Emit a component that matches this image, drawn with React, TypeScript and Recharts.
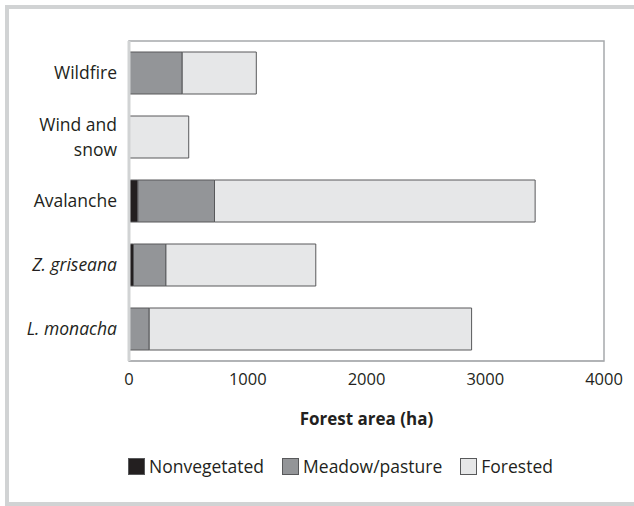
import { BarChart, Bar, XAxis, YAxis, Legend, ReferenceArea } from 'recharts';

const CATEGORIES = ['Wildfire', 'Wind and snow', 'Avalanche', 'Z. griseana', 'L. monacha'];
const NONVEGETATED = [0, 0, 75, 38, 0];
const MEADOW = [448, 0, 645, 273, 170];
const FORESTED = [624, 503, 2700, 1262, 2715];
const X_TICKS = [0, 1000, 2000, 3000, 4000];
const SERIES_NAMES = ['Nonvegetated', 'Meadow/pasture', 'Forested'];

const ITALIC = ['Z. griseana', 'L. monacha'];
const WRAPPED: Record<string, string[]> = { 'Wind and snow': ['Wind and', 'snow'] };

const FONT = '"Open Sans", sans-serif';
const INK = '#231f20';
const OUTLINE = '#58595b';
const COLORS = ['#231f20', '#939598', '#e6e7e8'];

const data = CATEGORIES.map((name, i) => ({
  name,
  nonveg: NONVEGETATED[i],
  meadow: MEADOW[i],
  forested: FORESTED[i],
}));

function CategoryTick({ x, y, payload }: any) {
  const label: string = payload.value;
  const lines = WRAPPED[label] ?? [label];
  const lineH = 25;
  const start = -((lines.length - 1) * lineH) / 2;
  return (
    <text
      x={x}
      y={y}
      textAnchor="end"
      fill={INK}
      fontSize={17.5}
      fontFamily={FONT}
      fontStyle={ITALIC.includes(label) ? 'italic' : 'normal'}
    >
      {lines.map((ln, i) => (
        <tspan key={ln} x={x} y={y + start + i * lineH} dy="0.36em">
          {ln}
        </tspan>
      ))}
    </text>
  );
}

function renderLegend(props: any) {
  const payload = [...(props.payload ?? [])].sort(
    (a: any, b: any) => SERIES_NAMES.indexOf(a.value) - SERIES_NAMES.indexOf(b.value)
  );
  return (
    <div style={{ display: 'flex', alignItems: 'center', marginLeft: 128, fontFamily: FONT, fontSize: 17.5, color: INK, lineHeight: '24px' }}>
      {payload.map((entry: any, i: number) => (
        <div key={entry.value} style={{ display: 'flex', alignItems: 'center', marginRight: i < payload.length - 1 ? 18 : 0 }}>
          <span
            style={{
              display: 'inline-block',
              width: 15,
              height: 15,
              background: entry.color,
              border: `1px solid ${OUTLINE}`,
              marginRight: 4,
            }}
          />
          <span>{entry.value}</span>
        </div>
      ))}
    </div>
  );
}

export default function App() {
  return (
    <div style={{ position: 'absolute', left: 0, top: 0, width: 634, height: 506, background: '#fff' }}>
      <div
        style={{
          position: 'absolute',
          left: 5,
          top: 5,
          width: 629,
          height: 501,
          boxSizing: 'border-box',
          borderTop: '4px solid #d1d3d4',
          borderLeft: '4px solid #d1d3d4',
          borderBottom: '4px solid #d1d3d4',
        }}
      />
      <BarChart
        width={634}
        height={506}
        data={data}
        layout="vertical"
        margin={{ top: 41, right: 30, bottom: 75, left: 0 }}
        style={{ position: 'absolute', left: 0, top: 0 }}
      >
        <XAxis
          type="number"
          domain={[0, 4000]}
          ticks={X_TICKS}
          height={70}
          axisLine={{ stroke: '#a7a9ac' }}
          tickLine={false}
          tickMargin={6}
          tick={{ fill: INK, fontSize: 16.5, fontFamily: FONT }}
          label={{
            value: 'Forest area (ha)',
            position: 'insideBottom',
            offset: 6,
            fill: INK,
            fontSize: 17,
            fontWeight: 700,
            fontFamily: FONT,
          }}
        />
        <YAxis
          type="category"
          dataKey="name"
          width={129}
          axisLine={{ stroke: '#d1d3d4', strokeWidth: 3 }}
          tickLine={false}
          tickMargin={6}
          tick={<CategoryTick />}
        />
        <ReferenceArea x1={0} x2={4000} fill="none" stroke="#a7a9ac" strokeWidth={1.5} />
        <Bar dataKey="nonveg" name={SERIES_NAMES[0]} stackId="a" barSize={42} fill={COLORS[0]} stroke={OUTLINE} strokeWidth={1} isAnimationActive={false} />
        <Bar dataKey="meadow" name={SERIES_NAMES[1]} stackId="a" barSize={42} fill={COLORS[1]} stroke={OUTLINE} strokeWidth={1} isAnimationActive={false} />
        <Bar dataKey="forested" name={SERIES_NAMES[2]} stackId="a" barSize={42} fill={COLORS[2]} stroke={OUTLINE} strokeWidth={1} isAnimationActive={false} />
        <Legend
          verticalAlign="middle"
          align="center"
          layout="horizontal"
          content={renderLegend}
          wrapperStyle={{ top: 454, left: 0, width: 634 }}
        />
      </BarChart>
    </div>
  );
}
